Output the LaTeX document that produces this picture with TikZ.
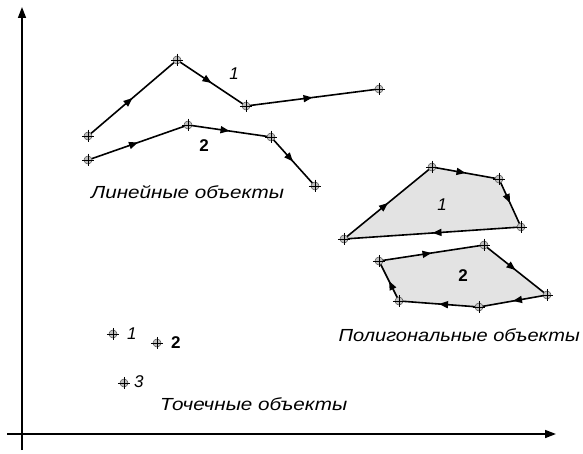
\documentclass[tikz,border=0pt]{standalone}
\usepackage{fontspec}
\setmainfont{Liberation Sans}
\usetikzlibrary{arrows.meta,decorations.markings}
\tikzset{
  seg/.style={line width=1.6pt,postaction={decorate},decoration={markings,mark=at position 0.5 with {\arrow{Triangle[length=9pt,width=7pt]}}}},
  axis/.style={line width=1.6pt,-{Triangle[length=11pt,width=8pt]}},
  poly/.style={fill=gray!22},
  mk/.style={circle,draw=gray!60!black,fill=gray!50,minimum size=8pt,inner sep=0pt,line width=0.5pt},
  captext/.style={inner sep=0pt,font=\fontsize{17.5}{19}\selectfont\itshape},
  num/.style={inner sep=0pt,font=\fontsize{17}{19}\selectfont\itshape},
  numb/.style={inner sep=0pt,font=\fontsize{17}{19}\selectfont\bfseries},
}
\newcommand{\wide}[2][1.18]{\scalebox{#1}[1]{#2}}
\newcommand{\mkat}[1]{%
  \node[mk] (m#1) at (#1) {};
  \draw[line width=0.8pt,black] ([yshift=2pt]m#1.north) -- ([yshift=-2pt]m#1.south)
    ([xshift=-2pt]m#1.west) -- ([xshift=2pt]m#1.east);}
\begin{document}
\begin{tikzpicture}[x=1pt,y=-1pt]
\useasboundingbox (0,0) rectangle (583,454);
% axes
\coordinate (ybot) at (22,450);
\coordinate (ytop) at (22,7);
\coordinate (xl) at (7,434);
\coordinate (xr) at (556,434);
\draw[axis] (ybot) -- (ytop);
\draw[axis] (xl) -- (xr);
% line 1
\coordinate (a1) at (88,136);
\coordinate (a2) at (177,60);
\coordinate (a3) at (246,106);
\coordinate (a4) at (379,89);
% line 2
\coordinate (b1) at (88,160);
\coordinate (b2) at (188,125);
\coordinate (b3) at (271,137);
\coordinate (b4) at (315,186);
% polygon 1
\coordinate (p1) at (344,239);
\coordinate (p2) at (432,167);
\coordinate (p3) at (499,179);
\coordinate (p4) at (521,227);
% polygon 2
\coordinate (q1) at (379,261);
\coordinate (q2) at (484,245);
\coordinate (q3) at (547,295);
\coordinate (q4) at (479,307);
\coordinate (q5) at (399,301);
% points
\coordinate (t1) at (113,334);
\coordinate (t2) at (157,343);
\coordinate (t3) at (124,383);

\fill[poly] (p1) -- (p2) -- (p3) -- (p4) -- cycle;
\fill[poly] (q1) -- (q2) -- (q3) -- (q4) -- (q5) -- cycle;

\draw[seg] (a1) -- (a2); \draw[seg] (a2) -- (a3); \draw[seg] (a3) -- (a4);
\draw[seg] (b1) -- (b2); \draw[seg] (b2) -- (b3); \draw[seg] (b3) -- (b4);
\draw[seg] (p1) -- (p2); \draw[seg] (p2) -- (p3); \draw[seg] (p3) -- (p4); \draw[seg] (p4) -- (p1);
\draw[seg] (q1) -- (q2); \draw[seg] (q2) -- (q3); \draw[seg] (q3) -- (q4); \draw[seg] (q4) -- (q5); \draw[seg] (q5) -- (q1);

\foreach \c in {a1,a2,a3,a4,b1,b2,b3,b4,p1,p2,p3,p4,q1,q2,q3,q4,q5,t1,t2,t3} {\mkat{\c}}

% labels
\node[num] (l1) at (234,74) {1};
\node[numb] (l2) at (204,146) {2};
\node[num] (g1) at (442,205) {1};
\node[numb] (g2) at (463,276) {2};
\node[num,anchor=west] (n1) at (127,334) {1};
\node[numb,anchor=west] (n2) at (171,343) {2};
\node[num,anchor=west] (n3) at (134,382) {3};

\node[captext,anchor=west] (c1) at (91,192) {\wide{Линейные объекты}};
\node[captext,anchor=east] (c2) at (580,335) {\wide[1.145]{Полигональные объекты}};
\node[captext,anchor=west] (c3) at (160,404) {\wide{Точечные объекты}};
\end{tikzpicture}
\end{document}
